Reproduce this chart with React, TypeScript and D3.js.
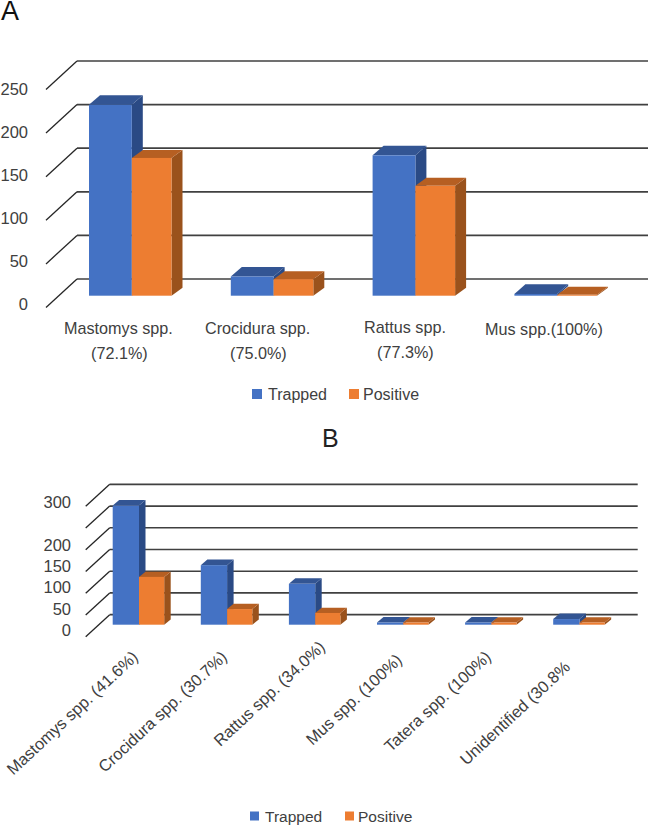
import React from "react";
import * as d3 from "d3";

const W = 650, H = 826;
const BLUE = "#4472c4", BLUE_TOP = "#335593", BLUE_SIDE = "#2a4a85";
const ORANGE = "#ed7d31", ORANGE_TOP = "#b65f22", ORANGE_SIDE = "#9a521c";
const INK = "#404040";

const seriesNames = ["Trapped", "Positive"];

const catsA = [["Mastomys spp.", "(72.1%)"], ["Crocidura spp.", "(75.0%)"], ["Rattus spp.", "(77.3%)"], ["Mus spp.(100%)"]];
const trappedA = [219, 22, 161, 2];
const positiveA = [158, 19, 126, 1];
const ticksA = [0, 50, 100, 150, 200, 250];

const catsB = ["Mastomys spp. (41.6%)", "Crocidura spp. (30.7%)", "Rattus spp. (34.0%)", "Mus spp. (100%)", "Tatera spp. (100%)", "Unidentified (30.8%"];
const trappedB = [274, 137, 94, 5, 5, 13];
const positiveB = [110, 36, 27, 5, 5, 5];
const ticksB = [0, 50, 100, 150, 200, 300];
const gridB = [0, 50, 100, 150, 200, 250, 300];

function Chart(p: {
  n: number; trapped: number[]; positive: number[]; grid: number[]; ticks: number[];
  x0: number; step: number; wBlue: number; wOrange: number;
  base: number; back0: number; backTop: number; maxV: number;
  gridL: number; gridR: number; slant: number; drop: number;
  dx: number; dyBlue: number; dyOrange: number;
  label0: number; labelTop: number; labelMax: number; labelX: number;
}) {
  const x = d3.scaleLinear().domain([0, 1]).range([p.x0, p.x0 + p.step]);
  const y = d3.scaleLinear().domain([0, p.maxV]).range([p.back0, p.backTop]);
  const h = (v: number) => p.back0 - y(v);
  const ly = d3.scaleLinear().domain([0, p.labelMax]).range([p.label0, p.labelTop]);
  const bar = (key: string, xl: number, w: number, v: number, dy: number, c: string[]) => {
    const t = p.base - h(v);
    const pts = (a: number[][]) => a.map(q => q.join(",")).join(" ");
    return (
      <g key={key}>
        <polygon fill={c[2]} points={pts([[xl + w, t], [xl + w + p.dx, t - dy], [xl + w + p.dx, p.base - dy], [xl + w, p.base]])} />
        <polygon fill={c[1]} points={pts([[xl, t], [xl + w, t], [xl + w + p.dx, t - dy], [xl + p.dx, t - dy]])} />
        <rect x={xl} y={t} width={w} height={p.base - t} fill={c[0]} />
      </g>
    );
  };
  return (
    <g>
      {p.grid.map(g => (
        <g key={g}>
          <line x1={p.gridL} x2={p.gridR} y1={y(g)} y2={y(g)} stroke={INK} strokeWidth={1.7} />
          <line x1={p.gridL - p.slant} x2={p.gridL} y1={y(g) + p.drop} y2={y(g)} stroke="#262626" strokeWidth={1.3} />
        </g>
      ))}
      {p.ticks.map(t => (
        <text key={t} x={p.labelX} y={ly(t)} textAnchor="end" dominantBaseline="central" fontSize={16.5} fill={INK}>{t}</text>
      ))}
      {d3.range(p.n).map(i => (
        <g key={i}>
          {bar("b", x(i), p.wBlue, p.trapped[i], p.dyBlue, [BLUE, BLUE_TOP, BLUE_SIDE])}
          {bar("o", x(i) + p.wBlue, p.wOrange, p.positive[i], p.dyOrange, [ORANGE, ORANGE_TOP, ORANGE_SIDE])}
        </g>
      ))}
    </g>
  );
}

function Legend({ x, y, gap, size, fs }: { x: number; y: number; gap: number; size: number; fs: number }) {
  return (
    <g>
      <rect x={x} y={y - size / 2} width={size} height={size} fill={BLUE} />
      <text x={x + size + 6} y={y} dominantBaseline="central" fontSize={fs} fill={INK}>{seriesNames[0]}</text>
      <rect x={x + gap} y={y - size / 2} width={size} height={size} fill={ORANGE} />
      <text x={x + gap + size + 4} y={y} dominantBaseline="central" fontSize={fs} fill={INK}>{seriesNames[1]}</text>
    </g>
  );
}

export default function App() {
  const xA = [[64, 91], [205, 230], [364, 377], [485]];
  const yA = [[327.5, 353], [327.5, 353], [327, 352], [329]];
  const endB = [[135, 654], [224, 654], [322, 644], [399, 657], [488, 654], [567, 664]];
  return (
    <svg width={W} height={H} viewBox={`0 0 ${W} ${H}`}
      style={{ position: "absolute", left: 0, top: 0, background: "#fff", fontFamily: "'Liberation Sans', Arial, sans-serif" }}>
      <text x={1} y={20} fontSize={27} fill="#111">A</text>
      <text x={322} y={447} fontSize={25} fill="#222">B</text>
      <Chart n={4} trapped={trappedA} positive={positiveA} grid={ticksA} ticks={ticksA}
        x0={89} step={141.8} wBlue={42.8} wOrange={39.7} base={295.7} back0={279} backTop={61} maxV={250}
        gridL={77} gridR={648} slant={31} drop={28.5} dx={11} dyBlue={9.6} dyOrange={8}
        label0={304} labelTop={89} labelMax={250} labelX={28} />
      {catsA.map((c, i) => c.map((line, j) => (
        <text key={i + "-" + j} x={xA[i][j]} y={yA[i][j]} dominantBaseline="central" fontSize={16.2} fill={INK}>{line}</text>
      )))}
      <Legend x={252} y={394} gap={97} size={10} fs={16} />
      <Chart n={6} trapped={trappedB} positive={positiveB} grid={gridB} ticks={ticksB}
        x0={112.7} step={88.1} wBlue={26.3} wOrange={25.2} base={624.7} back0={614.7} backTop={484.3} maxV={300}
        gridL={109.7} gridR={637.7} slant={24} drop={22} dx={6.5} dyBlue={5.6} dyOrange={5.2}
        label0={630} labelTop={502} labelMax={300} labelX={71} />
      {catsB.map((c, i) => (
        <text key={c} transform={`translate(${endB[i][0]},${endB[i][1]}) rotate(-43)`}
          textAnchor="end" dominantBaseline="central" fontSize={16.4} fill={INK}>{c}</text>
      ))}
      <Legend x={250} y={816} gap={95} size={9} fs={15.5} />
    </svg>
  );
}
